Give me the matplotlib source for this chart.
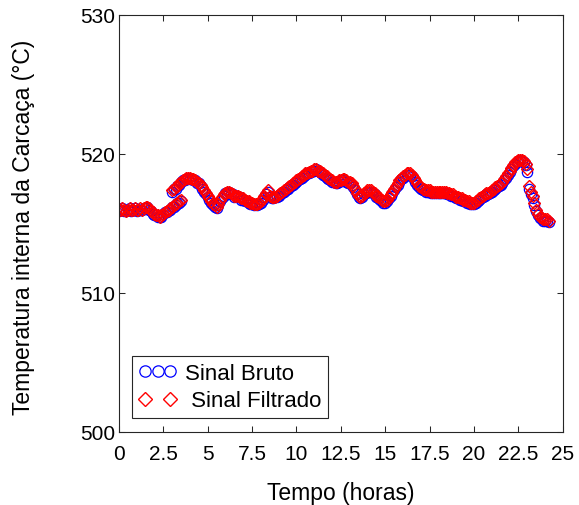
import numpy as np
import matplotlib
matplotlib.use("Agg")
import matplotlib.pyplot as plt
from matplotlib.legend_handler import HandlerLine2D

plt.rcParams['font.family'] = ['Liberation Sans', 'DejaVu Sans']

# Sampling step of the logged temperature (hours)
dt = 0.1

# Logged segments: start hour of each segment
seg_start = [0.0, 3.0, 8.5]

# Raw temperature signal (°C), one list per segment
bruto_a = [515.9, 516.0, 516.1, 515.9, 515.9, 516.0, 516.1, 515.9, 516.0, 516.1,
           515.9, 516.0, 516.0, 516.0, 516.1, 516.1, 516.2, 516.0, 515.9, 515.7,
           515.6, 515.6, 515.5, 515.5, 515.5, 515.7, 515.8, 515.8, 516.0, 516.0,
           516.2, 516.2, 516.3, 516.5, 516.5, 516.6]
bruto_b = [517.3, 517.5, 517.5, 517.7, 517.8, 518.0, 518.1, 518.1, 518.2, 518.3,
           518.2, 518.2, 518.1, 518.1, 517.9, 517.9, 517.7, 517.5, 517.3, 517.1,
           516.9, 516.7, 516.5, 516.3, 516.2, 516.1, 516.3, 516.6, 516.8, 517.0,
           517.2, 517.2, 517.3, 517.1, 517.1, 516.9, 517.0, 516.9, 516.9, 516.7,
           516.7, 516.6, 516.6, 516.5, 516.4, 516.4, 516.3, 516.4, 516.3, 516.4,
           516.5, 516.7, 516.9, 517.1, 517.3]
bruto_c = [516.9, 516.8, 516.8, 516.9, 516.9,
           517.0, 517.1, 517.2, 517.3, 517.4, 517.5, 517.6, 517.7, 517.8, 517.9,
           518.0, 518.1, 518.2, 518.3, 518.4, 518.5, 518.6, 518.6, 518.7, 518.8,
           518.8, 518.9, 518.8, 518.7, 518.6, 518.5, 518.4, 518.3, 518.2, 518.1,
           518.0, 518.0, 517.9, 517.9, 518.0, 518.1, 518.1, 518.1, 518.0, 517.9,
           517.9, 517.8, 517.6, 517.4, 517.1, 516.9, 516.8, 516.9, 517.1, 517.2,
           517.3, 517.3, 517.3, 517.2, 517.1, 516.9, 516.8, 516.7, 516.6, 516.5,
           516.5, 516.6, 516.8, 517.0, 517.2, 517.4, 517.6, 517.8, 518.0, 518.2,
           518.3, 518.4, 518.5, 518.5, 518.5, 518.4, 518.2, 518.0, 517.8, 517.6,
           517.5, 517.4, 517.4, 517.3, 517.3, 517.3, 517.2, 517.2, 517.2, 517.2,
           517.2, 517.2, 517.2, 517.2, 517.2, 517.1, 517.1, 517.0, 517.0, 516.9,
           516.8, 516.8, 516.7, 516.7, 516.6, 516.6, 516.5, 516.5, 516.4, 516.4,
           516.4, 516.5, 516.6, 516.7, 516.8, 516.9, 517.0, 517.1, 517.1, 517.2,
           517.3, 517.4, 517.5, 517.6, 517.7, 517.8, 517.9, 518.1, 518.3, 518.5,
           518.7, 518.9, 519.1, 519.3, 519.4, 519.5, 519.6, 519.5, 519.4, 519.2,
           518.7, 517.5, 517.1, 516.8, 516.3, 515.9, 515.6, 515.4, 515.3, 515.2,
           515.2, 515.2, 515.1]

# Filtered temperature signal (°C), same segments
filtrado_a = [516.0, 516.0, 516.1, 516.0, 515.9, 516.0, 516.1, 516.0, 516.0, 516.1,
              516.0, 516.0, 516.1, 516.0, 516.1, 516.2, 516.2, 516.1, 515.9, 515.8,
              515.7, 515.6, 515.6, 515.5, 515.6, 515.7, 515.8, 515.9, 516.0, 516.1,
              516.2, 516.3, 516.4, 516.5, 516.6, 516.7]
filtrado_b = [517.4, 517.5, 517.6, 517.7, 517.9, 518.0, 518.1, 518.2, 518.3, 518.3,
              518.3, 518.2, 518.2, 518.1, 518.0, 517.9, 517.8, 517.6, 517.4, 517.2,
              517.0, 516.8, 516.6, 516.4, 516.3, 516.2, 516.4, 516.7, 516.9, 517.1,
              517.2, 517.3, 517.3, 517.2, 517.1, 517.0, 517.0, 517.0, 516.9, 516.8,
              516.8, 516.7, 516.6, 516.6, 516.5, 516.5, 516.4, 516.4, 516.4, 516.5,
              516.6, 516.8, 517.0, 517.2, 517.4]
filtrado_c = [517.0, 516.9, 516.9, 516.9, 517.0,
              517.1, 517.2, 517.3, 517.4, 517.5, 517.6, 517.7, 517.8, 517.9, 518.0,
              518.1, 518.2, 518.3, 518.4, 518.5, 518.6, 518.6, 518.7, 518.8, 518.8,
              518.9, 518.9, 518.8, 518.8, 518.7, 518.6, 518.5, 518.4, 518.3, 518.2,
              518.1, 518.0, 518.0, 518.0, 518.1, 518.1, 518.2, 518.2, 518.1, 518.0,
              518.0, 517.9, 517.7, 517.5, 517.2, 517.0, 516.9, 517.0, 517.2, 517.3,
              517.4, 517.4, 517.4, 517.3, 517.2, 517.0, 516.9, 516.8, 516.7, 516.6,
              516.6, 516.7, 516.9, 517.1, 517.3, 517.5, 517.7, 517.9, 518.1, 518.3,
              518.4, 518.5, 518.6, 518.6, 518.6, 518.5, 518.3, 518.1, 517.9, 517.7,
              517.6, 517.5, 517.5, 517.4, 517.4, 517.4, 517.3, 517.3, 517.3, 517.3,
              517.3, 517.3, 517.3, 517.3, 517.3, 517.2, 517.2, 517.1, 517.1, 517.0,
              516.9, 516.9, 516.8, 516.8, 516.7, 516.7, 516.6, 516.6, 516.5, 516.5,
              516.5, 516.6, 516.7, 516.8, 516.9, 517.0, 517.1, 517.2, 517.2, 517.3,
              517.4, 517.5, 517.6, 517.7, 517.8, 517.9, 518.0, 518.2, 518.4, 518.6,
              518.8, 519.0, 519.2, 519.4, 519.5, 519.6, 519.6, 519.6, 519.5, 519.3,
              518.9, 517.7, 517.3, 517.0, 516.5, 516.0, 515.7, 515.5, 515.4, 515.3,
              515.3, 515.3, 515.2]

x_ticks = [0, 2.5, 5, 7.5, 10, 12.5, 15, 17.5, 20, 22.5, 25]
x_tick_labels = ['0', '2.5', '5', '7.5', '10', '12.5', '15', '17.5', '20', '22.5', '25']
y_ticks = [500, 510, 520, 530]


def join_segments(starts, segments):
    t, v = [], []
    for s, seg in zip(starts, segments):
        t.extend(s + dt * np.arange(len(seg)))
        v.extend(seg)
    return np.array(t), np.array(v)


t_bruto, v_bruto = join_segments(seg_start, [bruto_a, bruto_b, bruto_c])
t_filt, v_filt = join_segments(seg_start, [filtrado_a, filtrado_b, filtrado_c])

axis_color = '#262626'

fig = plt.figure(figsize=(5.79, 5.06), dpi=100)
ax = fig.add_axes([0.2053, 0.1443, 0.7668, 0.8241])

l_bruto, = ax.plot(t_bruto, v_bruto, linestyle='none', marker='o', ms=7.4,
                   mfc='none', mec='#0000ff', mew=0.9, label='Sinal Bruto')
l_filt, = ax.plot(t_filt, v_filt, linestyle='none', marker='D', ms=6.4,
                  mfc='none', mec='#ff0000', mew=1.0, label=' Sinal Filtrado')

ax.set_xlim(0, 25)
ax.set_ylim(500, 530)
ax.set_xticks(x_ticks)
ax.set_xticklabels(x_tick_labels)
ax.set_yticks(y_ticks)

ax.tick_params(direction='in', length=4.5, width=0.75, colors=axis_color,
               labelcolor='black', labelsize=15, top=True, right=True)
ax.tick_params(axis='x', pad=8.5)
ax.tick_params(axis='y', pad=2.5)
for sp in ax.spines.values():
    sp.set_color(axis_color)
    sp.set_linewidth(0.8)

ax.set_xlabel('Tempo (horas)', fontsize=16.5)
ax.set_ylabel('Temperatura interna da Carcaça (°C)', fontsize=16.5)
ax.xaxis.set_label_coords(0.5, -0.117)
ax.yaxis.set_label_coords(-0.189, 0.493)

leg = ax.legend(handles=[l_bruto, l_filt], loc='lower left',
                bbox_to_anchor=(0.0295, 0.0336), borderaxespad=0,
                fontsize=16, frameon=True, fancybox=False, framealpha=1,
                edgecolor=axis_color, markerscale=1.1, handlelength=1.7,
                handletextpad=0.4, borderpad=0.3, labelspacing=0.3,
                handler_map={l_bruto: HandlerLine2D(numpoints=3),
                             l_filt: HandlerLine2D(numpoints=2)})
leg.get_frame().set_linewidth(0.8)

fig.savefig('out.png', dpi=100)
